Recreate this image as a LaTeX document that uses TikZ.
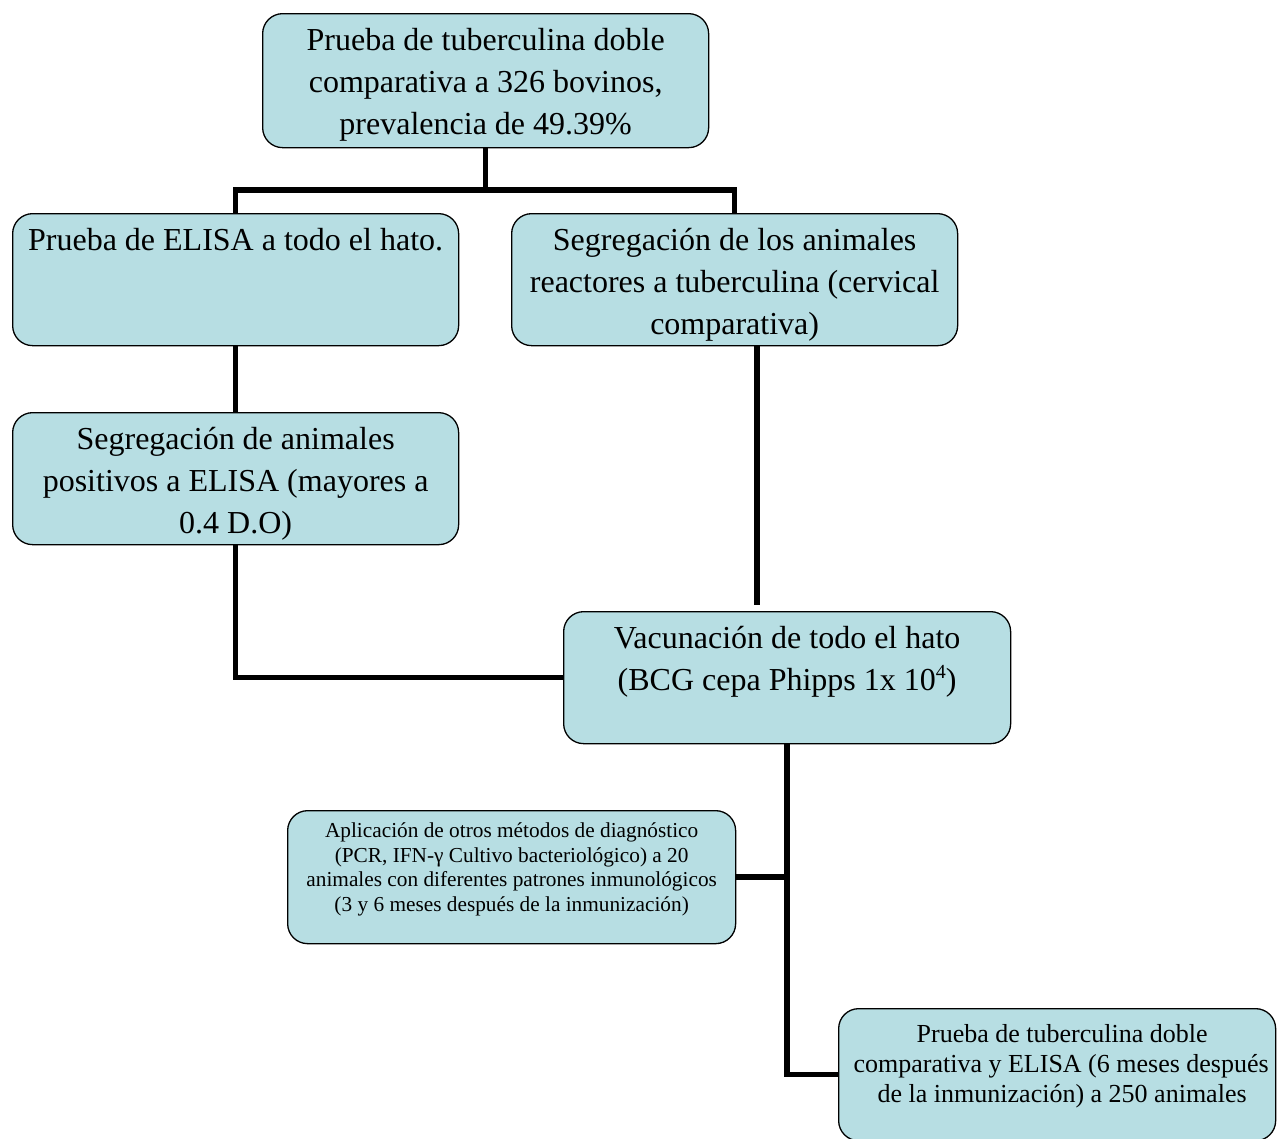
\documentclass[tikz,border=0pt]{standalone}
\usepackage{fontspec}
\setmainfont{Liberation Serif}
\definecolor{boxfill}{RGB}{183,222,227}

\begin{document}
\begin{tikzpicture}[x=1pt, y=-1pt,
  stage/.style={draw=black, line width=1.3pt, fill=boxfill, rounded corners=20pt,
    anchor=north west, align=flush center, inner xsep=6pt, inner ysep=0pt,
    minimum width=446pt, text width=434pt,
    font={\fontsize{32}{42}\selectfont}, text height=37pt, text depth=95pt},
  link/.style={line width=5.5pt, line join=miter}]

\useasboundingbox (0,0) rectangle (1277,1138);

\node[stage, text depth=97pt] (tuber) at (262,13) {Prueba de tuberculina doble\\ comparativa a 326 bovinos,\\ prevalencia de 49.39\%};
\node[stage] (elisa) at (12,213) {Prueba de ELISA a todo el hato.};
\node[stage] (segtub) at (511,213) {Segregación de los animales\\ reactores a tuberculina (cervical\\ comparativa)};
\node[stage] (segeli) at (12,412) {Segregación de animales\\ positivos a ELISA (mayores a\\ 0.4 D.O)};
\node[stage, minimum width=447pt] (vacuna) at (563,611) {Vacunación de todo el hato\\ (BCG cepa Phipps 1x 10\raisebox{12pt}{\fontsize{20}{20}\selectfont 4})};
\node[stage, minimum width=448pt, text width=436pt, font={\fontsize{21.3}{24.5}\selectfont},
  text height=27pt, text depth=106pt] (otros) at (287,810)
  {Aplicación de otros métodos de diagnóstico\\ (PCR, IFN-γ Cultivo bacteriológico) a 20\\ animales con diferentes patrones inmunológicos\\ (3 y 6 meses después de la inmunización)};
\node[stage, minimum width=437pt, text width=425pt, font={\fontsize{26}{30}\selectfont},
  text height=34pt, text depth=98pt] (final) at (838,1008)
  {\hspace*{10pt}Prueba de tuberculina doble\\ \hspace*{8pt}comparativa y ELISA (6 meses después\\ \hspace*{10pt}de la inmunización) a 250 animales};

\coordinate (split) at (485,190);
\foreach \n in {elisa,segtub}{
       \draw[link] (tuber.south) -- (tuber.south |- split) -| (\n.north);
}
\draw[link] (elisa.south) -- (segeli.north);
\draw[link] (segeli.south) |- (vacuna.west);

\coordinate (gap) at (757,605);
\draw[link] (segtub.south -| gap) -- (gap);

\draw[link] (vacuna.south) |- (final.west);
\draw[link] (otros.east) -- (otros.east -| vacuna.south);

\end{tikzpicture}
\end{document}
